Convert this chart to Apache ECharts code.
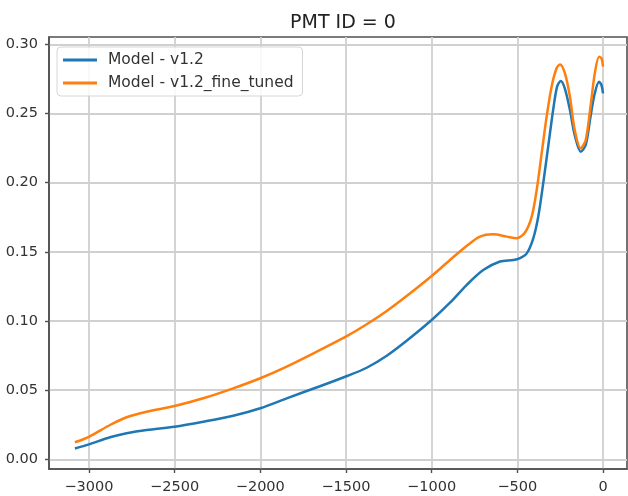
<!DOCTYPE html>
<html>
<head>
<meta charset="utf-8">
<script src="https://cdn.jsdelivr.net/npm/echarts@6/dist/echarts.min.js"></script>
<style>
html,body{margin:0;padding:0;background:#fff;}
#chart{width:628px;height:496px;}
</style>
</head>
<body>
<div id="chart"></div>
<script>
// Data
const titleText = 'PMT ID = 0';
const seriesNames = ['Model - v1.2', 'Model - v1.2_fine_tuned'];
const xTicks = [-3000, -2500, -2000, -1500, -1000, -500, 0];
const yTicks = [0, 0.05, 0.10, 0.15, 0.20, 0.25, 0.30];

const blueX = [-3082, -3000, -2877, -2780, -2663, -2500, -2333, -2158, -2000, -1846, -1652, -1490, -1379, -1262, -1146, -1000, -893, -796, -699, -601, -523, -484, -445, -407, -378, -349, -320, -291, -268, -247, -223, -193, -165, -130, -101, -73, -48, -23, -9, 0];
const blueY = [0.0078, 0.0108, 0.0159, 0.0188, 0.0212, 0.0236, 0.0272, 0.0315, 0.0369, 0.0441, 0.0528, 0.0604, 0.0662, 0.0749, 0.0857, 0.1007, 0.1132, 0.1260, 0.1368, 0.1430, 0.1441, 0.1455, 0.1489, 0.1598, 0.1754, 0.1995, 0.2260, 0.2525, 0.2694, 0.2735, 0.2682, 0.2525, 0.2344, 0.2224, 0.2272, 0.2477, 0.2646, 0.2730, 0.2706, 0.2646];

const orangeX = [-3082, -3000, -2877, -2780, -2663, -2500, -2333, -2158, -2000, -1846, -1652, -1490, -1379, -1262, -1146, -1000, -893, -796, -718, -640, -562, -504, -455, -416, -387, -358, -329, -300, -271, -251, -222, -193, -165, -130, -101, -73, -48, -23, -9, 0];
const orangeY = [0.0123, 0.0163, 0.0248, 0.0304, 0.0344, 0.0385, 0.0441, 0.0513, 0.0586, 0.0670, 0.0790, 0.0894, 0.0976, 0.1072, 0.1180, 0.1325, 0.1441, 0.1542, 0.1610, 0.1627, 0.1610, 0.1598, 0.1640, 0.1754, 0.1947, 0.2212, 0.2477, 0.2694, 0.2827, 0.2855, 0.2790, 0.2621, 0.2380, 0.2248, 0.2308, 0.2549, 0.2790, 0.2910, 0.2899, 0.2839];

const pair = (xs, ys) => xs.map((x, i) => [x, ys[i]]);

const chart = echarts.init(document.getElementById('chart'), null, {renderer: 'canvas'});
const FONT = 'DejaVu Sans';
const gridLine = {show: true, lineStyle: {color: '#d0d0d0', width: 1.8}};

chart.setOption({
  animation: false,
  backgroundColor: '#fff',
  title: {
    text: titleText, left: 338, top: 9, textAlign: 'center',
    textStyle: {fontFamily: FONT, fontSize: 19, fontWeight: 'normal', color: '#222'}
  },
  legend: {
    orient: 'vertical', left: 57, top: 47,
    data: seriesNames,
    icon: 'rect', itemWidth: 34, itemHeight: 3, itemGap: 7,
    padding: [5, 9, 5, 6],
    borderColor: '#d6d6d6', borderWidth: 1, borderRadius: 4,
    backgroundColor: 'rgba(255,255,255,0.85)',
    textStyle: {fontFamily: FONT, fontSize: 15.5, color: '#333', padding: [0, 0, 0, 6]}
  },
  grid: {left: 49, right: 1, top: 37, bottom: 27, show: true, borderColor: '#505050', borderWidth: 1.6, backgroundColor: 'transparent'},
  xAxis: {
    type: 'value', min: -3233, max: 140,
    axisLine: {show: true, onZero: false, lineStyle: {color: '#505050', width: 1.6}},
    axisTick: {show: true, inside: false, length: 4, customValues: xTicks, lineStyle: {color: '#505050', width: 1.4}},
    axisLabel: {customValues: xTicks, margin: 11, fontFamily: FONT, fontSize: 14.5, color: '#333',
      formatter: v => (v < 0 ? '\u2212' + Math.abs(v) : String(v))},
    splitLine: gridLine
  },
  yAxis: {
    type: 'value', min: -0.007, max: 0.3053,
    axisLine: {show: true, onZero: false, lineStyle: {color: '#505050', width: 1.6}},
    axisTick: {show: true, inside: false, length: 4, customValues: yTicks, lineStyle: {color: '#505050', width: 1.4}},
    axisLabel: {customValues: yTicks, margin: 11, fontFamily: FONT, fontSize: 14.5, color: '#333',
      formatter: v => v.toFixed(2)},
    splitLine: gridLine
  },
  series: [
    {name: seriesNames[0], type: 'line', data: pair(blueX, blueY), smooth: 0.3, showSymbol: false,
     lineStyle: {color: '#1f77b4', width: 2.5}, itemStyle: {color: '#1f77b4'}},
    {name: seriesNames[1], type: 'line', data: pair(orangeX, orangeY), smooth: 0.3, showSymbol: false,
     lineStyle: {color: '#ff7f0e', width: 2.5}, itemStyle: {color: '#ff7f0e'}}
  ]
});
</script>
</body>
</html>
